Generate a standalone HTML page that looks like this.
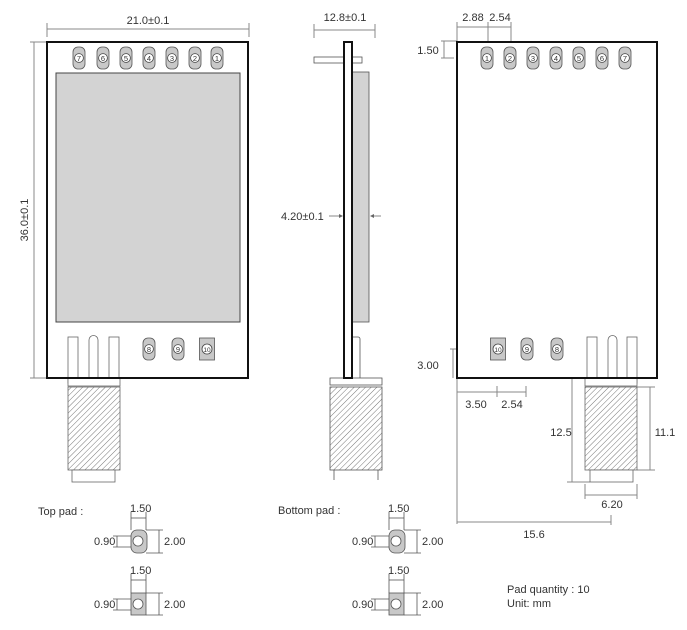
<!DOCTYPE html>
<html><head><meta charset="utf-8"><style>
html,body{margin:0;padding:0;background:#fff;width:687px;height:630px;overflow:hidden}
svg text{font-family:"Liberation Sans",sans-serif;fill:#333}
</style></head><body>
<svg width="687" height="630" viewBox="0 0 687 630" xmlns="http://www.w3.org/2000/svg">
<defs>
<pattern id="h" width="4" height="4" patternUnits="userSpaceOnUse" patternTransform="rotate(45)">
<rect width="4" height="4" fill="#fff"/><line x1="0" y1="0" x2="0" y2="4" stroke="#777" stroke-width="1"/>
</pattern>
<g id="rp"><rect x="-6" y="-11" width="12" height="22" rx="5" fill="#c8c8c8" stroke="#555" stroke-width="0.8"/><circle r="4.4" fill="#fff" stroke="#444" stroke-width="0.8"/></g>
<g id="sp"><rect x="-7.5" y="-11" width="15" height="22" fill="#c8c8c8" stroke="#555" stroke-width="0.8"/><circle r="5" fill="#fff" stroke="#444" stroke-width="0.8"/></g>
</defs>
<g stroke="#888" stroke-width="1" fill="none">
<line x1="47" y1="29" x2="249" y2="29"/><line x1="47" y1="23" x2="47" y2="37"/><line x1="249" y1="23" x2="249" y2="37"/>
<line x1="34" y1="42" x2="34" y2="378"/><line x1="30" y1="42" x2="47" y2="42"/><line x1="30" y1="378" x2="47" y2="378"/>
</g>
<text x="148" y="24" font-size="11" text-anchor="middle">21.0±0.1</text>
<text transform="translate(28,220) rotate(-90)" font-size="11" text-anchor="middle">36.0±0.1</text>
<!-- left board -->
<rect x="47" y="42" width="201" height="336" fill="#fff"/>
<g stroke="#666" stroke-width="0.8" fill="#fff">
<rect x="68" y="337" width="10" height="46"/><path d="M89 383 V340 a4 4 0 0 1 9 0 V383"/><rect x="109" y="337" width="10" height="46"/>
<rect x="68" y="378" width="52" height="8"/>
<rect x="68" y="387" width="52" height="83" fill="url(#h)"/>
<rect x="72" y="470" width="43" height="12"/>
</g>
<rect x="47" y="42" width="201" height="336" fill="none" stroke="#111" stroke-width="2"/>
<rect x="56" y="73" width="184" height="249" fill="#d3d3d3" stroke="#444" stroke-width="1"/>
<g font-size="7.5" text-anchor="middle">
<use href="#rp" x="79" y="58"/><text x="79" y="61">7</text>
<use href="#rp" x="103" y="58"/><text x="103" y="61">6</text>
<use href="#rp" x="126" y="58"/><text x="126" y="61">5</text>
<use href="#rp" x="149" y="58"/><text x="149" y="61">4</text>
<use href="#rp" x="172" y="58"/><text x="172" y="61">3</text>
<use href="#rp" x="195" y="58"/><text x="195" y="61">2</text>
<use href="#rp" x="217" y="58"/><text x="217" y="61">1</text>
<use href="#rp" x="149" y="349"/><text x="149" y="352">8</text>
<use href="#rp" x="178" y="349"/><text x="178" y="352">9</text>
<use href="#sp" x="207" y="349"/><text x="207" y="352" font-size="6.5">10</text>
</g>
<!-- middle -->
<g stroke="#888" stroke-width="1" fill="none">
<line x1="314" y1="30" x2="375" y2="30"/><line x1="314" y1="24" x2="314" y2="38"/><line x1="375" y1="24" x2="375" y2="38"/>
<line x1="329" y1="216" x2="341" y2="216"/><line x1="371" y1="216" x2="381" y2="216"/>
</g>
<path d="M343 216 l-4 -2 v4z M370 216 l4 -2 v4z" fill="#666"/>
<text x="345" y="21" font-size="11" text-anchor="middle">12.8±0.1</text>
<text x="281" y="220" font-size="11">4.20±0.1</text>
<g stroke="#555" stroke-width="0.8" fill="#fff">
<rect x="314" y="57" width="48" height="6"/>
<rect x="352" y="72" width="17" height="250" fill="#d3d3d3"/>
<path d="M352 337 H358 a2 2 0 0 1 2 2 V378"/>
<rect x="330" y="378" width="52" height="7"/>
<rect x="330" y="387" width="52" height="83" fill="url(#h)"/>
<line x1="334" y1="470" x2="334" y2="480"/><line x1="378" y1="470" x2="378" y2="480"/>
</g>
<rect x="344" y="42" width="8" height="336" fill="#fff" stroke="#111" stroke-width="2"/>
<!-- right -->
<g stroke="#888" stroke-width="1" fill="none">
<line x1="457" y1="27" x2="511" y2="27"/><line x1="457" y1="22" x2="457" y2="41"/><line x1="488" y1="22" x2="488" y2="41"/><line x1="511" y1="22" x2="511" y2="41"/>
<line x1="444" y1="41" x2="444" y2="58"/><line x1="441" y1="41" x2="457" y2="41"/><line x1="441" y1="58" x2="454" y2="58"/>
<line x1="453" y1="349" x2="453" y2="378"/><line x1="450" y1="349" x2="458" y2="349"/>
<line x1="457" y1="392" x2="526" y2="392"/><line x1="497" y1="386" x2="497" y2="397"/><line x1="526" y1="386" x2="526" y2="397"/>
<line x1="572" y1="378" x2="572" y2="482"/><line x1="567" y1="482" x2="590" y2="482"/>
<line x1="650" y1="387" x2="650" y2="470"/><line x1="637" y1="387" x2="655" y2="387"/><line x1="637" y1="470" x2="655" y2="470"/>
<line x1="585" y1="495" x2="637" y2="495"/><line x1="585" y1="484" x2="585" y2="499"/><line x1="637" y1="484" x2="637" y2="499"/>
<line x1="457" y1="378" x2="457" y2="524"/><line x1="457" y1="522" x2="611" y2="522"/><line x1="611" y1="515" x2="611" y2="525"/>
</g>
<g font-size="11" text-anchor="middle">
<text x="473" y="21">2.88</text><text x="500" y="21">2.54</text>
<text x="428" y="54">1.50</text><text x="428" y="369">3.00</text>
<text x="476" y="408">3.50</text><text x="512" y="408">2.54</text>
<text x="561" y="436">12.5</text><text x="665" y="436">11.1</text>
<text x="612" y="508">6.20</text><text x="534" y="538">15.6</text>
</g>
<rect x="457" y="42" width="200" height="336" fill="#fff"/>
<g stroke="#666" stroke-width="0.8" fill="#fff">
<rect x="587" y="337" width="10" height="46"/><path d="M608 383 V340 a4 4 0 0 1 9 0 V383"/><rect x="627" y="337" width="10" height="46"/>
<rect x="585" y="378" width="52" height="8"/>
<rect x="585" y="387" width="52" height="83" fill="url(#h)"/>
<rect x="590" y="470" width="43" height="12"/>
</g>
<rect x="457" y="42" width="200" height="336" fill="none" stroke="#111" stroke-width="2"/>
<g font-size="7.5" text-anchor="middle">
<use href="#rp" x="487" y="58"/><text x="487" y="61">1</text>
<use href="#rp" x="510" y="58"/><text x="510" y="61">2</text>
<use href="#rp" x="533" y="58"/><text x="533" y="61">3</text>
<use href="#rp" x="556" y="58"/><text x="556" y="61">4</text>
<use href="#rp" x="579" y="58"/><text x="579" y="61">5</text>
<use href="#rp" x="602" y="58"/><text x="602" y="61">6</text>
<use href="#rp" x="625" y="58"/><text x="625" y="61">7</text>
<use href="#sp" x="498" y="349"/><text x="498" y="352" font-size="6.5">10</text>
<use href="#rp" x="527" y="349"/><text x="527" y="352">9</text>
<use href="#rp" x="557" y="349"/><text x="557" y="352">8</text>
</g>
<!-- pads -->
<g id="padset">
<g stroke="#555" stroke-width="0.8" fill="none">
<line x1="131" y1="518" x2="146" y2="518"/><line x1="131" y1="512" x2="131" y2="530"/><line x1="146" y1="512" x2="146" y2="530"/>
<line x1="117" y1="536" x2="117" y2="547"/><line x1="113" y1="536" x2="134" y2="536"/><line x1="113" y1="547" x2="134" y2="547"/>
<line x1="159" y1="530" x2="159" y2="553"/><line x1="146" y1="530" x2="163" y2="530"/><line x1="146" y1="553" x2="163" y2="553"/>
<rect x="131" y="530" width="16" height="23" rx="6" fill="#c8c8c8"/><circle cx="138" cy="541" r="5" fill="#fff"/>
<line x1="131" y1="580" x2="146" y2="580"/><line x1="131" y1="574" x2="131" y2="593"/><line x1="146" y1="574" x2="146" y2="593"/>
<line x1="117" y1="599" x2="117" y2="610"/><line x1="113" y1="599" x2="134" y2="599"/><line x1="113" y1="610" x2="134" y2="610"/>
<line x1="159" y1="593" x2="159" y2="615"/><line x1="146" y1="593" x2="163" y2="593"/><line x1="146" y1="615" x2="163" y2="615"/>
<rect x="131" y="593" width="15" height="22" fill="#c8c8c8"/><circle cx="138" cy="604" r="5" fill="#fff"/>
</g>
<g font-size="11">
<text x="130" y="512">1.50</text><text x="94" y="545">0.90</text><text x="164" y="545">2.00</text>
<text x="130" y="574">1.50</text><text x="94" y="608">0.90</text><text x="164" y="608">2.00</text>
</g>
</g>
<use href="#padset" x="258" y="0"/>
<g font-size="11">
<text x="38" y="515">Top pad :</text>
<text x="278" y="514">Bottom pad :</text>
<text x="507" y="593">Pad quantity : 10</text>
<text x="507" y="607">Unit:  mm</text>
</g>
</svg>
</body></html>
